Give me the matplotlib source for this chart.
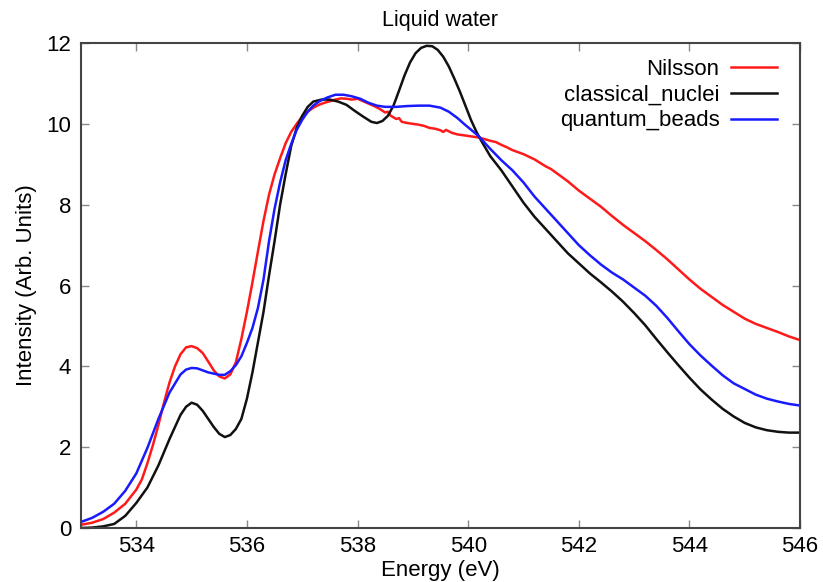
import matplotlib
matplotlib.use("Agg")
import matplotlib.pyplot as plt

plt.rcParams['font.family'] = ['Liberation Sans', 'DejaVu Sans']

title = "Liquid water"
xlabel = "Energy (eV)"
ylabel = "Intensity (Arb. Units)"
x_ticks = [534, 536, 538, 540, 542, 544, 546]
y_ticks = [0, 2, 4, 6, 8, 10, 12]

nilsson_E = [533.0, 533.2, 533.4, 533.6, 533.8, 534.0, 534.1, 534.2, 534.3, 534.4, 534.5, 534.6,
             534.7, 534.8, 534.9, 535.0, 535.1, 535.2, 535.3, 535.4, 535.5, 535.6, 535.7, 535.8,
             535.9, 536.0, 536.1, 536.2, 536.3, 536.4, 536.5, 536.6, 536.7, 536.8, 536.9, 537.0,
             537.1, 537.2, 537.3, 537.4, 537.5, 537.6, 537.7, 537.8, 537.9, 538.0, 538.1, 538.2,
             538.3, 538.4, 538.5, 538.55, 538.6, 538.7, 538.75, 538.8, 538.9, 539.0, 539.1, 539.2,
             539.3, 539.4, 539.5, 539.55, 539.6, 539.7, 539.8, 539.9, 540.0, 540.2, 540.3, 540.4,
             540.5, 540.6, 540.7, 540.8, 540.9, 541.0, 541.2, 541.4, 541.5, 541.6, 541.8, 542.0,
             542.2, 542.4, 542.6, 542.8, 543.0, 543.2, 543.4, 543.6, 543.8, 544.0, 544.2, 544.4,
             544.6, 544.8, 545.0, 545.2, 545.4, 545.6, 545.8, 546.0]
nilsson_I = [0.08, 0.13, 0.22, 0.38, 0.6, 0.95, 1.2, 1.6, 2.05, 2.55, 3.1, 3.6,
             4.0, 4.3, 4.47, 4.5, 4.45, 4.33, 4.12, 3.9, 3.75, 3.7, 3.8, 4.1,
             4.68, 5.35, 6.08, 6.85, 7.6, 8.25, 8.75, 9.15, 9.52, 9.8, 10.0, 10.18,
             10.3, 10.4, 10.47, 10.52, 10.56, 10.6, 10.63, 10.62, 10.6, 10.62, 10.56, 10.5,
             10.44, 10.37, 10.28, 10.3, 10.2, 10.12, 10.14, 10.05, 10.02, 10.0, 9.98, 9.95,
             9.9, 9.88, 9.84, 9.8, 9.85, 9.78, 9.74, 9.72, 9.7, 9.66, 9.62, 9.58,
             9.55, 9.48, 9.42, 9.35, 9.3, 9.25, 9.12, 8.95, 8.88, 8.78, 8.58, 8.35,
             8.15, 7.95, 7.72, 7.5, 7.3, 7.1, 6.88, 6.65, 6.4, 6.15, 5.92, 5.72,
             5.52, 5.35, 5.18, 5.05, 4.95, 4.85, 4.74, 4.65]

classical_E = [533.0, 533.2, 533.4, 533.6, 533.8, 534.0, 534.2, 534.4, 534.6, 534.8, 534.9, 535.0,
               535.1, 535.2, 535.3, 535.4, 535.5, 535.6, 535.7, 535.8, 535.9, 536.0, 536.1, 536.2,
               536.3, 536.4, 536.5, 536.6, 536.7, 536.8, 536.9, 537.0, 537.1, 537.2, 537.35, 537.5,
               537.65, 537.8, 537.95, 538.1, 538.25, 538.35, 538.45, 538.55, 538.65, 538.75, 538.85, 538.95,
               539.05, 539.15, 539.25, 539.35, 539.45, 539.55, 539.65, 539.75, 539.85, 539.95, 540.05, 540.15,
               540.25, 540.4, 540.6, 540.8, 541.0, 541.2, 541.4, 541.6, 541.8, 542.0, 542.2, 542.4,
               542.6, 542.8, 543.0, 543.2, 543.4, 543.6, 543.8, 544.0, 544.2, 544.4, 544.6, 544.8,
               545.0, 545.2, 545.4, 545.6, 545.8, 546.0]
classical_I = [0.0, 0.01, 0.04, 0.1, 0.3, 0.62, 1.0, 1.55, 2.2, 2.8, 3.0, 3.1,
               3.05, 2.9, 2.7, 2.5, 2.33, 2.25, 2.3, 2.45, 2.7, 3.2, 3.85, 4.6,
               5.35, 6.25, 7.1, 8.0, 8.75, 9.45, 9.9, 10.2, 10.42, 10.55, 10.6, 10.6,
               10.55, 10.47, 10.32, 10.18, 10.05, 10.02, 10.07, 10.2, 10.45, 10.82, 11.2, 11.52,
               11.75, 11.88, 11.93, 11.92, 11.83, 11.66, 11.42, 11.12, 10.8, 10.45, 10.1, 9.8,
               9.55, 9.2, 8.85, 8.45, 8.05, 7.7, 7.4, 7.1, 6.8, 6.55, 6.3, 6.08,
               5.85, 5.6, 5.32, 5.02, 4.68, 4.35, 4.03, 3.72, 3.43, 3.18, 2.95, 2.76,
               2.6, 2.49, 2.42, 2.38, 2.36, 2.36]

quantum_E = [533.0, 533.2, 533.4, 533.6, 533.8, 534.0, 534.2, 534.4, 534.6, 534.8, 534.9, 535.0,
             535.1, 535.2, 535.3, 535.4, 535.5, 535.6, 535.7, 535.8, 535.9, 536.0, 536.1, 536.2,
             536.3, 536.4, 536.5, 536.6, 536.7, 536.8, 536.9, 537.0, 537.1, 537.2, 537.3, 537.45,
             537.6, 537.75, 537.9, 538.05, 538.2, 538.35, 538.5, 538.7, 538.9, 539.1, 539.3, 539.5,
             539.65, 539.8, 539.95, 540.1, 540.2, 540.4, 540.6, 540.8, 541.0, 541.2, 541.4, 541.6,
             541.8, 542.0, 542.2, 542.4, 542.6, 542.8, 543.0, 543.2, 543.4, 543.6, 543.8, 544.0,
             544.2, 544.4, 544.6, 544.8, 545.0, 545.2, 545.4, 545.6, 545.8, 546.0]
quantum_I = [0.15, 0.25, 0.4, 0.6, 0.92, 1.35, 1.98, 2.7, 3.35, 3.8, 3.92, 3.96,
             3.95, 3.9, 3.85, 3.82, 3.79, 3.79, 3.88, 4.03, 4.25, 4.58, 4.95, 5.45,
             6.15, 7.1, 7.9, 8.55, 9.1, 9.5, 9.85, 10.1, 10.3, 10.45, 10.55, 10.65,
             10.72, 10.72, 10.68, 10.62, 10.52, 10.45, 10.42, 10.42, 10.44, 10.45, 10.45, 10.4,
             10.3, 10.15, 9.97, 9.8, 9.68, 9.38, 9.1, 8.85, 8.55, 8.2, 7.9, 7.6,
             7.3, 7.0, 6.75, 6.52, 6.32, 6.15, 5.95, 5.75, 5.5, 5.2, 4.87, 4.55,
             4.27, 4.02, 3.78, 3.58, 3.44, 3.3, 3.2, 3.13, 3.07, 3.03]

fs = 16
fig = plt.figure(figsize=(8.23, 5.82), dpi=100)
ax = fig.add_axes([81/823, 1 - 528/582, (800 - 81)/823, (528 - 43)/582])

lw = 1.8
ax.plot(nilsson_E, nilsson_I, color='#ff1a1a', lw=lw, label='Nilsson')
ax.plot(classical_E, classical_I, color='#111111', lw=lw, label='classical_nuclei')
ax.plot(quantum_E, quantum_I, color='#1a1aff', lw=lw, label='quantum_beads')

ax.set_xlim(533, 546)
ax.set_ylim(0, 12)
ax.set_xticks(x_ticks)
ax.set_yticks(y_ticks)
ax.tick_params(direction='in', length=6, width=1, color='#888888', labelsize=fs,
               top=True, right=True, pad=6)
ax.tick_params(axis='y', pad=7)
for s in ax.spines.values():
    s.set_color('#444444')
    s.set_linewidth(1.5)

ax.set_title(title, fontsize=fs - 0.5, pad=12)
ax.set_xlabel(xlabel, fontsize=fs, labelpad=2)
ax.set_ylabel(ylabel, fontsize=fs, labelpad=7)

ax.legend(loc='upper right', frameon=False, fontsize=fs, markerfirst=False,
          handlelength=2.1, handletextpad=0.5, labelspacing=0.22,
          borderaxespad=0.3, bbox_to_anchor=(0.99, 1.0))

fig.savefig('out.png', dpi=100)
